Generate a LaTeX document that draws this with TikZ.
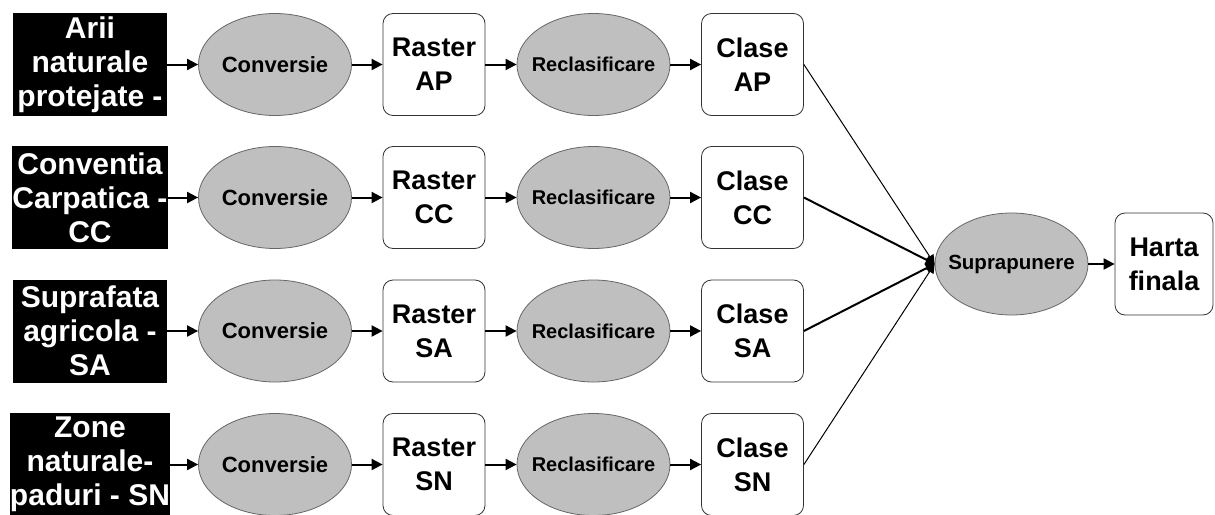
\documentclass[tikz,border=0pt]{standalone}
\usepackage{fontspec}
\setmainfont{Liberation Sans}
\usetikzlibrary{shapes.geometric,arrows.meta}
\begin{document}
\begin{tikzpicture}[x=1pt,y=-1pt,
  srcbox/.style={fill=black,text=white,minimum width=154pt,minimum height=103pt,inner sep=0pt,align=center,
    font=\bfseries\fontsize{30pt}{34pt}\selectfont},
  procell/.style={ellipse,draw=black!60,line width=0.8pt,fill=black!25,minimum width=153pt,minimum height=102pt,inner xsep=-25pt,inner ysep=0pt},
  databox/.style={draw=black!80,line width=0.8pt,fill=white,rounded corners=10pt,minimum width=102pt,minimum height=102pt,inner sep=0pt,align=center,
    font=\bfseries\fontsize{27pt}{34pt}\selectfont},
  flow/.style={line width=2pt,-{Triangle[length=11pt,width=11pt]}},
  thinflow/.style={line width=1pt,-{Triangle[length=9pt,width=9pt]}},
  thickflow/.style={line width=2pt,-{Triangle[length=9pt,width=9pt]}},
  convfont/.style={font=\bfseries\fontsize{22pt}{24pt}\selectfont},
  reclfont/.style={font=\bfseries\fontsize{20pt}{22pt}\selectfont},
  supfont/.style={font=\bfseries\fontsize{20.5pt}{22pt}\selectfont}]
\useasboundingbox (0,0) rectangle (1215,514);
\fill[white] (0,0) rectangle (1215,514);

% row 1
\node[srcbox] (s1) at (90,64.5) {Arii\\naturale\\protejate -};
\node[procell,convfont] (c1) at (275,64.5) {Conversie};
\node[databox] (r1) at (434,64.5) {Raster\\AP};
\node[procell,reclfont] (q1) at (593.5,64.5) {Reclasificare};
\node[databox] (k1) at (752.5,64.5) {Clase\\AP};
% row 2
\node[srcbox] (s2) at (90,197.5) {Conventia\\Carpatica -\\CC};
\node[procell,convfont] (c2) at (275,197.5) {Conversie};
\node[databox] (r2) at (434,197.5) {Raster\\CC};
\node[procell,reclfont] (q2) at (593.5,197.5) {Reclasificare};
\node[databox] (k2) at (752.5,197.5) {Clase\\CC};
% row 3
\node[srcbox] (s3) at (90,331) {Suprafata\\agricola -\\SA};
\node[procell,convfont] (c3) at (275,331) {Conversie};
\node[databox] (r3) at (434,331) {Raster\\SA};
\node[procell,reclfont] (q3) at (593.5,331) {Reclasificare};
\node[databox] (k3) at (752.5,331) {Clase\\SA};
% row 4
\node[srcbox] (s4) at (90,464.5) {Zone\\naturale-\\paduri - SN};
\node[procell,convfont] (c4) at (275,464.5) {Conversie};
\node[databox] (r4) at (434,464.5) {Raster\\SN};
\node[procell,reclfont] (q4) at (593.5,464.5) {Reclasificare};
\node[databox] (k4) at (752.5,464.5) {Clase\\SN};

% merge
\node[procell,supfont] (sup) at (1011.5,264) {Suprapunere};
\node[databox,minimum width=98pt] (hf) at (1164,264) {Harta\\finala};

\foreach \i in {1,2,3,4}{
  \draw[flow] (s\i) -- (c\i);
  \draw[flow] (c\i) -- (r\i);
  \draw[flow] (r\i) -- (q\i);
  \draw[flow] (q\i) -- (k\i);
}
\draw[thinflow] (k1.east) -- (sup.west);
\draw[thickflow] (k2.east) -- (sup.west);
\draw[thickflow] (k3.east) -- (sup.west);
\draw[thinflow] (k4.east) -- (sup.west);
\draw[flow] (sup) -- (hf);
\end{tikzpicture}
\end{document}
